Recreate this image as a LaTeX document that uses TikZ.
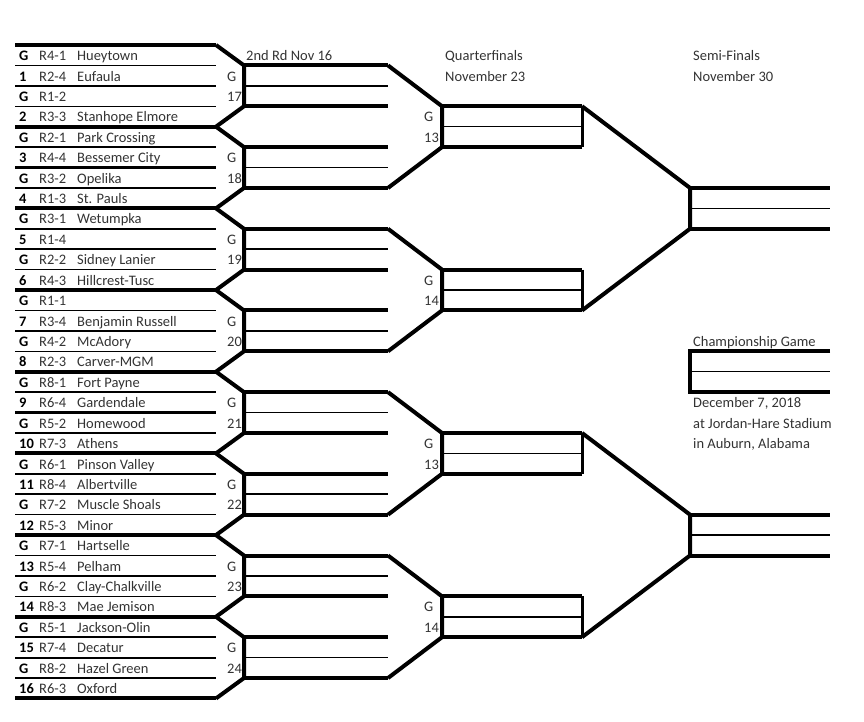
\documentclass[tikz,border=0pt]{standalone}
\usepackage{fontspec}
\setmainfont{Carlito}
\usepackage{tikz}
\usetikzlibrary{positioning, calc}

\tikzset{
  txt/.style={anchor=base west, inner sep=0pt, text=black!80, font=\fontsize{14.5}{17}\selectfont},
  seedtxt/.style={txt, text=black, font=\fontsize{14.5}{17}\selectfont\bfseries},
  heavy/.style={line width=4pt},
  light/.style={line width=1.5pt},
  edge/.style={line width=3pt},
}

\begin{document}
\begin{tikzpicture}[x=1pt, y=-1pt]
  \useasboundingbox (0,0) rectangle (864,722);

  % Ruled rows, one coordinate per column
  \foreach \k in {0,...,32} {
    \pgfmathsetmacro{\yy}{45+20.42*\k}
    \foreach \col/\x in {l/15, a/216, b/244, c/388, d/442, e/582, f/690, g/830}
      \coordinate (\col\k) at (\x,\yy);
  }

  % Team lines
  \foreach \k in {0,...,32} {
    \pgfmathtruncatemacro{\qa}{mod(\k,4)}
    \pgfmathtruncatemacro{\qb}{mod(\k,2)}
    \ifnum\qa=0 \def\lw{4pt}\else\ifnum\qb=0 \def\lw{2.2pt}\else\def\lw{1.5pt}\fi\fi
    \draw[line width=\lw] (l\k) -- (a\k);
  }

  % Teams
  \foreach \sd/\rg/\tm [count=\i from 0] in {
      G/R4-1/Hueytown, 1/R2-4/Eufaula, G/R1-2/{}, 2/R3-3/Stanhope Elmore,
      G/R2-1/Park Crossing, 3/R4-4/Bessemer City, G/R3-2/Opelika, 4/R1-3/St. Pauls,
      G/R3-1/Wetumpka, 5/R1-4/{}, G/R2-2/Sidney Lanier, 6/R4-3/Hillcrest-Tusc,
      G/R1-1/{}, 7/R3-4/Benjamin Russell, G/R4-2/McAdory, 8/R2-3/Carver-MGM,
      G/R8-1/Fort Payne, 9/R6-4/Gardendale, G/R5-2/Homewood, 10/R7-3/Athens,
      G/R6-1/Pinson Valley, 11/R8-4/Albertville, G/R7-2/Muscle Shoals, 12/R5-3/Minor,
      G/R7-1/Hartselle, 13/R5-4/Pelham, G/R6-2/Clay-Chalkville, 14/R8-3/Mae Jemison,
      G/R5-1/Jackson-Olin, 15/R7-4/Decatur, G/R8-2/Hazel Green, 16/R6-3/Oxford} {
    \pgfmathsetmacro{\yy}{60.6+20.42*\i}
    \node[seedtxt] (sd\i) at (19,\yy) {\sd};
    \node[txt] (rg\i) at (39,\yy) {\rg};
    \node[txt] (tm\i) at (77,\yy) {\tm};
  }

  % 2nd round, games 17-24
  \foreach \m in {0,...,7} {
    \pgfmathtruncatemacro{\ka}{4*\m}
    \pgfmathtruncatemacro{\kb}{4*\m+1}
    \pgfmathtruncatemacro{\kc}{4*\m+2}
    \pgfmathtruncatemacro{\kd}{4*\m+3}
    \pgfmathtruncatemacro{\ke}{4*\m+4}
    \pgfmathtruncatemacro{\gn}{17+\m}
    \draw[heavy] (a\ka) -- (b\kb) -- (b\kd) -- (a\ke);
    \draw[heavy] (b\kb) -- (c\kb);
    \draw[light] (b\kc) -- (c\kc);
    \draw[heavy] (b\kd) -- (c\kd);
    \node[txt] (rg-g\m) at ($(b\kb)+(-17,15.6)$) {G};
    \node[txt] (rg-n\m) at ($(b\kc)+(-17,15.6)$) {\gn};
  }

  % Quarterfinals
  \foreach \q/\gn in {0/13, 1/14, 2/13, 3/14} {
    \pgfmathtruncatemacro{\ka}{8*\q+1}
    \pgfmathtruncatemacro{\kb}{8*\q+3}
    \pgfmathtruncatemacro{\kc}{8*\q+4}
    \pgfmathtruncatemacro{\kd}{8*\q+5}
    \pgfmathtruncatemacro{\ke}{8*\q+7}
    \draw[heavy] (c\ka) -- (d\kb) -- (d\kd) -- (c\ke);
    \draw[heavy] (d\kb) -- (e\kb);
    \draw[light] (d\kc) -- (e\kc);
    \draw[heavy] (d\kd) -- (e\kd);
    \draw[edge] (e\kb) -- (e\kd);
    \node[txt] (qf-g\q) at ($(d\kb)+(-18,15.6)$) {G};
    \node[txt] (qf-n\q) at ($(d\kc)+(-18,15.6)$) {\gn};
  }

  % Semi-finals
  \foreach \s in {0,1} {
    \pgfmathtruncatemacro{\ka}{16*\s+3}
    \pgfmathtruncatemacro{\kb}{16*\s+7}
    \pgfmathtruncatemacro{\kc}{16*\s+8}
    \pgfmathtruncatemacro{\kd}{16*\s+9}
    \pgfmathtruncatemacro{\ke}{16*\s+13}
    \draw[heavy] (e\ka) -- (f\kb) -- (f\kd) -- (e\ke);
    \draw[heavy] (f\kb) -- (g\kb);
    \draw[light] (f\kc) -- (g\kc);
    \draw[heavy] (f\kd) -- (g\kd);
  }

  % Championship game
  \draw[heavy] (g15) -- (f15) -- (f17) -- (g17);
  \draw[light] (f16) -- (g16);

  % Headings
  \node[txt] (rd2) at ($(b0)+(2,15.6)$) {2nd Rd Nov 16};
  \node[txt] (qf) at ($(d0)+(3,15.6)$) {Quarterfinals};
  \node[txt] (qfdate) at ($(qf.base west)+(0,20.42)$) {November 23};
  \node[txt] (sf) at ($(f0)+(3,15.6)$) {Semi-Finals};
  \node[txt] (sfdate) at ($(sf.base west)+(0,20.42)$) {November 30};
  \node[txt] (champ) at ($(f14)+(3,15.6)$) {Championship Game};
  \node[txt] (cdate) at ($(f17)+(3,15.6)$) {December 7, 2018};
  \node[txt] (cplace) at ($(cdate.base west)+(0,20.42)$) {at Jordan-Hare Stadium};
  \node[txt] (ctown) at ($(cplace.base west)+(0,20.42)$) {in Auburn, Alabama};
\end{tikzpicture}
\end{document}
